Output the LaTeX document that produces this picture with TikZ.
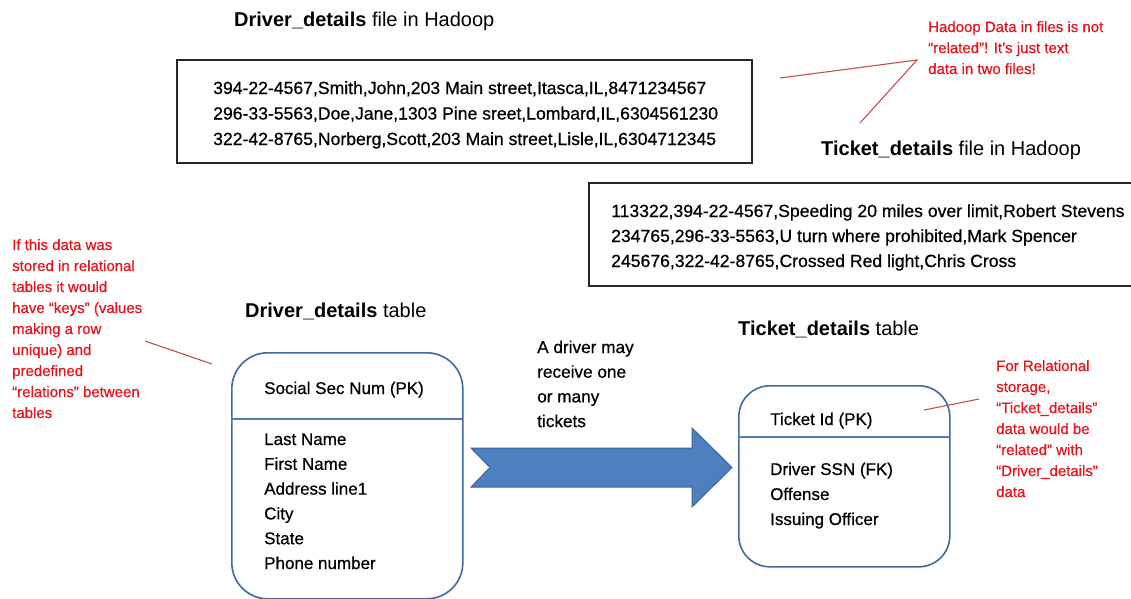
\documentclass[tikz,border=0pt]{standalone}
\usepackage{fontspec}
\setmainfont{Liberation Sans}[FakeBold=0.6]
\newfontfamily\headfont{Liberation Sans}
\definecolor{noteRed}{HTML}{E8141C}
\definecolor{leadRed}{HTML}{C0504D}
\definecolor{boxBlue}{HTML}{41699F}
\definecolor{divBlue}{HTML}{4F7FC0}
\definecolor{arrowFill}{HTML}{4E7FBE}
\definecolor{arrowLine}{HTML}{3B64A0}
\definecolor{fileLine}{HTML}{262626}
\newcommand\mylines[1]{\begin{tabular}[t]{@{}l@{}}#1\end{tabular}}
\begin{document}
\begin{tikzpicture}[x=1pt,y=-1pt,
  body/.style={anchor=base west, inner sep=0pt, font=\fontsize{17}{25}\selectfont},
  filetxt/.style={anchor=base west, inner sep=0pt, font=\fontsize{17.6}{25}\selectfont},
  heading/.style={anchor=base west, inner sep=0pt, font=\headfont\fontsize{20}{24}\selectfont},
  note/.style={anchor=base west, inner sep=0pt, text=noteRed, font=\fontsize{15}{21}\selectfont},
  filebox/.style={draw=fileLine, line width=1.2pt},
  tablebox/.style={draw=boxBlue, line width=1.6pt, fill=white},
  divider/.style={draw=divBlue, line width=1.5pt},
  lead/.style={draw=leadRed, line width=1.1pt},
  blockarrow/.style={fill=arrowFill, draw=arrowLine, line width=1pt, line join=miter}
]
\clip (0,0) rectangle (1131,598);
\fill[white] (0,0) rectangle (1131,598);

% ---------- Hadoop files ----------
\node[heading] (dfhead) at (234,26) {\textbf{Driver\_details} file in Hadoop};
\draw[filebox] (177,60) rectangle (752,163);
\node[filetxt, font=\fontsize{17.6}{25.5}\selectfont] (dftext) at (213,94) {\mylines{%
394-22-4567,Smith,John,203 Main street,Itasca,IL,8471234567\\
296-33-5563,Doe,Jane,1303 Pine sreet,Lombard,IL,6304561230\\
322-42-8765,Norberg,Scott,203 Main street,Lisle,IL,6304712345}};

\node[heading] (tfhead) at (821,155) {\textbf{Ticket\_details} file in Hadoop};
\draw[filebox] (589,183) rectangle (1145,286);
\node[filetxt] (tftext) at (611,217) {\mylines{%
113322,394-22-4567,Speeding 20 miles over limit,Robert Stevens\\
234765,296-33-5563,U turn where prohibited,Mark Spencer\\
245676,322-42-8765,Crossed Red light,Chris Cross}};

% top-right note
\node[note] (topnote) at (928,32) {\mylines{%
Hadoop Data in files is not\\
“related”! It’s just text\\
data in two files!}};
\coordinate (apex) at (917,60);
\coordinate (toDF) at (780,78);
\coordinate (toTF) at (860,123);
\draw[lead] (toDF) -- (apex) -- (toTF);

% ---------- left note ----------
\node[note] (leftnote) at (12,250) {\mylines{%
If this data was\\
stored in relational\\
tables it would\\
have “keys” (values\\
making a row\\
unique) and\\
predefined\\
“relations” between\\
tables}};
\coordinate (lnA) at (145,341);
\coordinate (lnB) at (212,364);
\draw[lead] (lnA) -- (lnB);

% ---------- Driver table ----------
\node[heading] (dthead) at (245,317) {\textbf{Driver\_details} table};
\node[tablebox, rounded corners=36pt, anchor=north west, minimum width=231pt,
      minimum height=246pt, inner sep=0pt] (dtab) at (231,352) {};
\draw[divider] (231,419) -- (462,419);
\node[body] (dpk) at (264,394) {Social Sec Num (PK)};
\node[body, font=\fontsize{17}{24.8}\selectfont] (dcols) at (264,445) {\mylines{%
Last Name\\ First Name\\ Address line1\\ City\\ State\\ Phone number}};

% ---------- block arrow ----------
\draw[blockarrow] (471,448) -- (692,448) -- (692,428) -- (732,467.5) -- (692,507)
  -- (692,487) -- (471,487) -- (490,467.5) -- cycle;
\node[body, font=\fontsize{17.2}{24.7}\selectfont] (relnote) at (537,353) {\mylines{%
A driver may\\ receive one\\ or many\\ tickets}};

% ---------- Ticket table ----------
\node[heading] (tthead) at (738,335) {\textbf{Ticket\_details} table};
\node[tablebox, rounded corners=31pt, anchor=north west, minimum width=211pt,
      minimum height=181pt, inner sep=0pt] (ttab) at (738,385) {};
\draw[divider] (738,437) -- (949,437);
\node[body] (tpk) at (770,425) {Ticket Id (PK)};
\node[body] (tcols) at (770,475) {\mylines{%
Driver SSN (FK)\\ Offense\\ Issuing Officer}};

% right note
\node[note] (rightnote) at (996,371) {\mylines{%
For Relational\\
storage,\\
“Ticket\_details”\\
data would be\\
“related” with\\
“Driver\_details”\\
data}};
\coordinate (rnA) at (924,410);
\coordinate (rnB) at (979,399);
\draw[lead] (rnA) -- (rnB);
\end{tikzpicture}
\end{document}
